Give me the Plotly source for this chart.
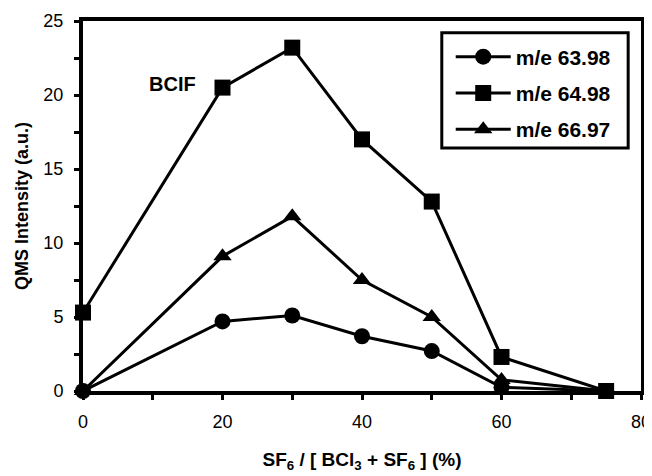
import plotly.graph_objects as go

x_vals = [0, 20, 30, 40, 50, 60, 75]
y_6398 = [0, 4.7, 5.1, 3.7, 2.7, 0.25, 0]
y_6498 = [5.3, 20.5, 23.2, 17.0, 12.8, 2.3, 0]
y_6697 = [0, 9.1, 11.8, 7.5, 5.0, 0.75, 0]
names = ["m/e 63.98", "m/e 64.98", "m/e 66.97"]
symbols = ["circle", "square", "triangle-up"]
sizes = [16, 16, 16]

fig = go.Figure()
for i, (y, n, s, sz) in enumerate(zip([y_6398, y_6498, y_6697], names, symbols, sizes)):
    fig.add_trace(go.Scatter(x=x_vals, y=y, name="<b>" + n + "</b>", mode="lines+markers",
                             line=dict(color="black", width=3),
                             marker=dict(symbol=s, size=sz, color="black"),
                             legendgroup="g%d" % i,
                             cliponaxis=False))

fig.add_annotation(x=12.9, y=20.75, text="<b>BCIF</b>", showarrow=False,
                   font=dict(size=20, color="black", family="Liberation Sans"))

# legend frame
fig.add_shape(type="rect", xref="paper", yref="paper", x0=0.643, x1=0.977, y0=0.657, y1=0.968,
              line=dict(color="black", width=3), fillcolor="rgba(0,0,0,0)", layer="above")

axis_common = dict(showline=True, linecolor="black", linewidth=4, mirror=True,
                   ticks="outside", ticklen=5, tickwidth=3, tickcolor="black",
                   showgrid=False, zeroline=False, automargin=False,
                   tickfont=dict(size=18, color="black", family="Liberation Sans"))

fig.update_xaxes(range=[0, 80], tickvals=[0, 20, 40, 60, 80], ticklabelstandoff=6,
                 minor=dict(tickvals=[10, 30, 50, 70], ticks="outside", ticklen=5, tickwidth=3, tickcolor="black"),
                 title=dict(text="<b>SF<sub>6</sub> / [ BCl<sub>3</sub> + SF<sub>6</sub> ] (%)</b>",
                            font=dict(size=19, color="black", family="Liberation Sans"), standoff=23),
                 **axis_common)
fig.update_yaxes(range=[0, 25], tickvals=[0, 5, 10, 15, 20, 25], ticklabelstandoff=7,
                 minor=dict(tickvals=[2.5, 7.5, 12.5, 17.5, 22.5], ticks="outside", ticklen=5, tickwidth=3, tickcolor="black"),
                 title=dict(text="<b>QMS Intensity (a.u.)</b>",
                            font=dict(size=18, color="black", family="Liberation Sans"), standoff=11),
                 **axis_common)

# page body has an 8px default margin; size the figure so it lands on the reference
fig.update_layout(width=644, height=468, plot_bgcolor="white", paper_bgcolor="white",
                  margin=dict(l=75, r=11, t=13, b=85),
                  legend=dict(x=0.659, y=0.958, xanchor="left", yanchor="top",
                              borderwidth=0, bgcolor="rgba(0,0,0,0)",
                              font=dict(size=21, color="black", family="Liberation Sans"),
                              itemwidth=55, tracegroupgap=6, traceorder="grouped"))

fig.write_html("out.html")
